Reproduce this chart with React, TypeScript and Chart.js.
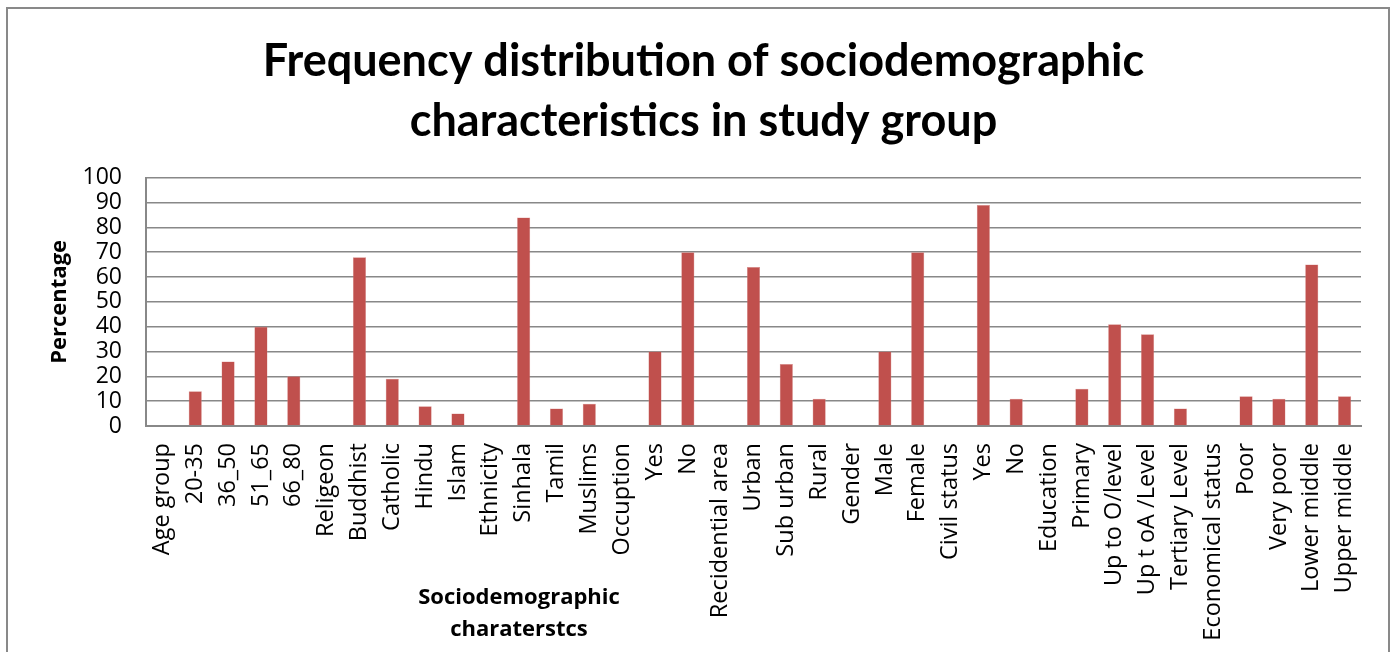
import React, { useEffect, useRef } from "react";
import { Chart, registerables } from "chart.js";

Chart.register(...registerables);

const categories = [
  "Age group", "20-35", "36_50", "51_65", "66_80",
  "Religeon", "Buddhist", "Catholic", "Hindu", "Islam",
  "Ethnicity", "Sinhala", "Tamil", "Muslims",
  "Occuption", "Yes", "No",
  "Recidential area", "Urban", "Sub urban", "Rural",
  "Gender", "Male", "Female",
  "Civil status", "Yes", "No",
  "Education", "Primary", "Up to O/level", "Up t oA /Level", "Tertiary Level",
  "Economical status", "Poor", "Very poor", "Lower middle", "Upper middle",
];

const percentages = [
  0, 14, 26, 40, 20,
  0, 68, 19, 8, 5,
  0, 84, 7, 9,
  0, 30, 70,
  0, 64, 25, 11,
  0, 30, 70,
  0, 89, 11,
  0, 15, 41, 37, 7,
  0, 12, 11, 65, 12,
];

const titleLines = ["Frequency distribution of sociodemographic", "characteristics in study group"];
const xTitleLines = ["Sociodemographic", "charaterstcs"];
const yTitle = "Percentage";

const SANS = "'Open Sans', sans-serif";

const frameAndXTitle = {
  id: "frameAndXTitle",
  beforeDraw(chart: any) {
    const ctx = chart.ctx;
    ctx.save();
    ctx.fillStyle = "#ffffff";
    ctx.fillRect(0, 0, chart.width, chart.height);
    ctx.strokeStyle = "#898989";
    ctx.lineWidth = 2;
    ctx.strokeRect(7, 8, 1382, 700);
    ctx.restore();
  },
  afterDraw(chart: any) {
    const ctx = chart.ctx;
    const area = chart.chartArea;
    ctx.save();
    ctx.fillStyle = "#000000";
    ctx.font = "bold 22px " + SANS;
    ctx.textAlign = "center";
    ctx.textBaseline = "middle";
    const cx = area.left + (area.right - area.left) * 0.307;
    xTitleLines.forEach((line, i) => {
      ctx.fillText(line, cx, 598 + i * 32);
    });
    ctx.restore();
  },
};

export default function App() {
  const canvasRef = useRef<HTMLCanvasElement | null>(null);

  useEffect(() => {
    document.body.style.margin = "0";
    const canvas = canvasRef.current;
    if (!canvas) return;
    const chart = new Chart(canvas, {
      type: "bar",
      data: {
        labels: categories,
        datasets: [
          {
            data: percentages,
            backgroundColor: "#C0504D",
            borderColor: "#D9908E",
            borderWidth: 0.5,
            categoryPercentage: 1,
            barPercentage: 0.4,
          },
        ],
      },
      plugins: [frameAndXTitle],
      options: {
        responsive: false,
        animation: false,
        layout: { padding: { left: 46, right: 34, top: 0, bottom: 0 } },
        plugins: {
          legend: { display: false },
          tooltip: { enabled: false },
          title: {
            display: true,
            text: titleLines,
            color: "#000000",
            font: { family: "Lato", size: 45, weight: "bold", lineHeight: 1.33 },
            padding: { top: 32, bottom: 26 },
          },
        },
        scales: {
          x: {
            grid: { display: false, drawTicks: false },
            border: { display: true, color: "#888888", width: 2 },
            ticks: {
              autoSkip: false,
              maxRotation: 90,
              minRotation: 90,
              padding: 17,
              color: "#000000",
              font: { family: SANS, size: 23.5 },
            },
            afterFit(scale: any) {
              scale.height = 226;
            },
          },
          y: {
            min: 0,
            max: 100,
            grid: { color: "#888888", lineWidth: 1.5, drawTicks: false },
            border: { display: true, color: "#888888", width: 2 },
            ticks: {
              stepSize: 10,
              autoSkip: false,
              padding: 24,
              color: "#000000",
              font: { family: SANS, size: 23 },
            },
            title: {
              display: true,
              text: yTitle,
              color: "#000000",
              font: { family: SANS, size: 22, weight: "bold", lineHeight: 1.2 },
              padding: { top: 1, bottom: 0 },
            },
            afterFit(scale: any) {
              scale.width = 100;
            },
          },
        },
      },
    });
    return () => chart.destroy();
  }, []);

  return (
    <div style={{ width: 1395, height: 652, position: "relative" }}>
      <canvas ref={canvasRef} width={1395} height={652} style={{ display: "block" }} />
    </div>
  );
}
